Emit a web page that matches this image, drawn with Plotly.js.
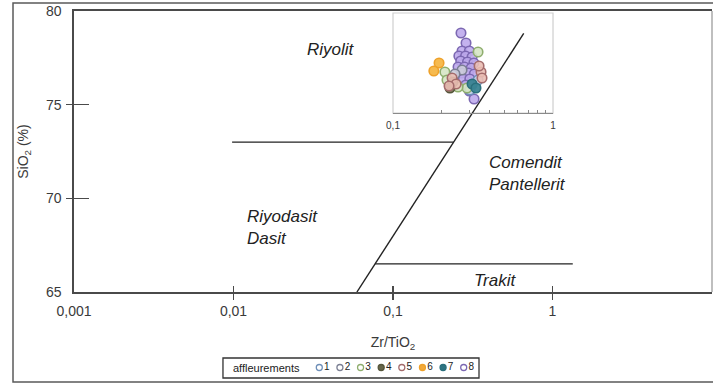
<!DOCTYPE html>
<html>
<head>
<meta charset="utf-8">
<script src="https://cdn.plot.ly/plotly-3.0.1.min.js"></script>
<style>html,body{margin:0;padding:0;background:#fff;}#chart{width:713px;height:383px;}</style>
</head>
<body>
<div id="chart"></div>
<script>
// ---- main diagram ----
var xTickVals = [0.001, 0.01, 0.1, 1, 10];
var xTickText = ['0,001', '0,01', '0,1', '1', '10'];
var xCrossTicks = [0.01, 0.1, 1];
var yTickVals = [65, 70, 75, 80];
var yCrossTicks = [70, 75];

// field boundary lines (Zr/TiO2, SiO2)
var diagX = [0.0594, 0.66];
var diagY = [65, 78.8];
var upperX = [0.0098, 0.24];
var upperY = [73, 73];
var lowerX = [0.0773, 1.34];
var lowerY = [66.5, 66.5];

// field names
var fieldNames = ['Riyolit', 'Comendit<br>Pantellerit', 'Riyodasit<br>Dasit', 'Trakit'];
var fieldX = [0.0408, 0.388, 0.0118, 0.436];
var fieldY = [77.92, 71.32, 68.47, 65.64];

// ---- inset (Zr/TiO2 0.1 - 1) ----
var insetTickVals = [0.1, 1];
var insetTickText = ['0,1', '1'];
var insetMinorTicks = [0.2, 0.3, 0.4, 0.5, 0.6, 0.7, 0.8, 0.9];

var seriesNames = ['1', '2', '3', '4', '5', '6', '7', '8'];
var seriesLine = ['#6e8fb8', '#7b7f93', '#8fae6e', '#55553a', '#a46c6c', '#eea12a', '#2a6f7c', '#7c68b2'];
var seriesFill = ['rgba(200,212,234,0.9)', 'rgba(205,206,218,0.9)', 'rgba(214,230,196,0.9)', 'rgba(120,120,88,0.95)',
                  'rgba(234,190,180,0.9)', 'rgba(245,182,70,0.95)', 'rgba(58,132,146,0.95)', 'rgba(190,170,236,0.9)'];
var legendFill = ['#ffffff', '#ffffff', '#ffffff', '#66664a', '#ffffff', '#f2a93a', '#2f7482', '#ffffff'];

var s1x = [0.340, 0.303];             var s1y = [33, 23];
var s2x = [0.270, 0.244];             var s2y = [43, 39];
var s3x = [0.340, 0.211, 0.2175, 0.290, 0.255]; var s3y = [61, 41, 33, 25, 26];
var s4x = [0.237, 0.227];             var s4y = [31, 25];
var s5x = [0.355, 0.345, 0.360, 0.234, 0.248, 0.224]; var s5y = [41, 47, 35, 35, 29, 27];
var s6x = [0.194, 0.180];             var s6y = [50, 42];
var s7x = [0.312, 0.330];             var s7y = [29, 25];
var s8x = [0.266, 0.286, 0.270, 0.300, 0.258, 0.284, 0.312, 0.265, 0.292, 0.320, 0.255, 0.280, 0.308,
           0.268, 0.296, 0.322, 0.275, 0.302, 0.285, 0.312, 0.300, 0.321];
var s8y = [80, 70, 62, 62, 57, 57, 56, 52, 51, 50, 46, 46, 45, 40, 40, 39, 34, 34, 28, 28, 22, 14];

var seriesX = [s1x, s2x, s3x, s4x, s5x, s6x, s7x, s8x];
var seriesY = [s1y, s2y, s3y, s4y, s5y, s6y, s7y, s8y];
var legendTitle = 'affleurements';
var legendRowY = [0, 0, 0, 0, 0, 0, 0, 0];

var FONT = 'Liberation Sans, Arial, sans-serif';
var traces = [];
var lineStyle = {color: '#222', width: 1.4};
traces.push({x: diagX, y: diagY, mode: 'lines', line: lineStyle, showlegend: false, hoverinfo: 'skip', xaxis: 'x', yaxis: 'y'});
traces.push({x: upperX, y: upperY, mode: 'lines', line: lineStyle, showlegend: false, hoverinfo: 'skip', xaxis: 'x4', yaxis: 'y4'});
traces.push({x: lowerX, y: lowerY, mode: 'lines', line: lineStyle, showlegend: false, hoverinfo: 'skip', xaxis: 'x5', yaxis: 'y5'});

var order = [7, 0, 1, 2, 3, 4, 5, 6];
order.forEach(function (i) {
  traces.push({
    x: seriesX[i], y: seriesY[i], name: seriesNames[i], mode: 'markers', xaxis: 'x2', yaxis: 'y2', showlegend: false,
    marker: {size: 9.5, color: seriesFill[i], line: {color: seriesLine[i], width: 1.6}}
  });
});

// legend row
traces.push({
  x: seriesNames, y: legendRowY, mode: 'markers+text', text: seriesNames, textposition: 'middle right',
  textfont: {family: FONT, size: 10, color: '#222'}, xaxis: 'x3', yaxis: 'y3', showlegend: false, hoverinfo: 'skip',
  marker: {size: 6, color: legendFill, line: {color: seriesLine, width: 1.3}}
});

var axCol = '#4a4a4a';
var hiddenTickAxis = function (type, range, overlay, anchor, vals, dir, len) {
  var a = {range: range, overlaying: overlay, anchor: anchor, tickvals: vals, ticks: dir, ticklen: len,
           tickwidth: 1.3, tickcolor: axCol, showticklabels: false, showline: false, showgrid: false, zeroline: false};
  if (type) a.type = type;
  return a;
};
var layout = {
  width: 713, height: 383,
  margin: {l: 74, r: 1, t: 11, b: 5},
  paper_bgcolor: '#fff', plot_bgcolor: 'rgba(0,0,0,0)',
  font: {family: FONT, color: '#3a3a3a', size: 14},
  showlegend: false,
  xaxis: {
    type: 'log', range: [-3, 1], domain: [0, 1], anchor: 'y',
    tickvals: xTickVals, ticktext: xTickText, ticks: 'outside', ticklen: 6, tickcolor: 'rgba(0,0,0,0)',
    showline: true, linecolor: axCol, linewidth: 1.6, mirror: true, showgrid: false, zeroline: false,
    tickfont: {size: 14, color: '#3a3a3a'},
    title: {text: 'Zr/TiO<sub>2</sub>', font: {size: 14, color: '#3a3a3a'}, standoff: 19}
  },
  yaxis: {
    range: [65, 80], domain: [0.2343, 1], anchor: 'x',
    tickvals: yTickVals, ticks: 'outside', ticklen: 8, tickcolor: 'rgba(0,0,0,0)',
    showline: true, linecolor: axCol, linewidth: 1.6, showgrid: false, zeroline: false,
    tickfont: {size: 14, color: '#3a3a3a'},
    title: {text: 'SiO<sub>2</sub> (%)', font: {size: 14, color: '#3a3a3a'}, standoff: 14}
  },
  xaxis4: hiddenTickAxis('log', [-3, 1], 'x', 'y', xCrossTicks, 'inside', 6),
  xaxis5: hiddenTickAxis('log', [-3, 1], 'x', 'y', xCrossTicks, 'outside', 7),
  yaxis4: hiddenTickAxis(null, [65, 80], 'y', 'x', yCrossTicks, 'inside', 15),
  yaxis5: hiddenTickAxis(null, [65, 80], 'y', 'x', yCrossTicks, 'outside', 7),
  xaxis2: {
    type: 'log', range: [-1, 0], domain: [0.5, 0.7508], anchor: 'y2',
    tickvals: insetTickVals, ticktext: insetTickText, ticks: 'outside', ticklen: 3, tickcolor: 'rgba(0,0,0,0)',
    minor: {tickvals: insetMinorTicks, ticks: 'inside', ticklen: 3, tickcolor: '#888', tickwidth: 1, showgrid: false},
    showline: true, linecolor: '#8a8a8a', linewidth: 1.2, showgrid: false, zeroline: false,
    tickfont: {size: 10, color: '#3a3a3a'}
  },
  yaxis2: {range: [0, 100], domain: [0.722, 0.9946], anchor: 'x2', showticklabels: false, ticks: '',
           showline: false, showgrid: false, zeroline: false},
  xaxis3: {type: 'category', range: [-0.5, 7.5], domain: [0.3683, 0.627], anchor: 'y3', visible: false},
  yaxis3: {range: [-1, 1], domain: [0.0027, 0.0545], anchor: 'x3', visible: false},
  shapes: [
    {type: 'rect', xref: 'paper', yref: 'paper', x0: -0.0956, x1: 1.02, y0: -0.0109, y1: 1.0218,
     line: {color: '#5a5a5a', width: 1.5}, fillcolor: 'rgba(0,0,0,0)', layer: 'below'},
    {type: 'line', xref: 'paper', yref: 'paper', x0: 1, x1: 1, y0: 0.2343, y1: 1, line: {color: '#aaaaaa', width: 1.5}},
    {type: 'rect', xref: 'x2 domain', yref: 'y2 domain', x0: 0, x1: 1, y0: 0, y1: 1,
     line: {color: '#cfcfcf', width: 1.2}, fillcolor: 'rgba(0,0,0,0)', layer: 'below'},
    {type: 'rect', xref: 'paper', yref: 'paper', x0: 0.2335, x1: 0.6348, y0: 0.0, y1: 0.0545,
     line: {color: '#333', width: 1.3}, fillcolor: 'rgba(0,0,0,0)'}
  ],
  annotations: []
};

for (var i = 0; i < fieldNames.length; i++) {
  var isLeft = (i === 1 || i === 2);
  layout.annotations.push({
    x: Math.log10(fieldX[i]), y: fieldY[i], xref: 'x', yref: 'y', text: fieldNames[i], showarrow: false,
    xanchor: isLeft ? 'left' : 'center', yanchor: 'middle', align: 'left',
    font: {family: FONT, size: 17, color: '#222', style: 'italic'}
  });
}
layout.annotations.push({
  x: 0.246, y: 0.0286, xref: 'paper', yref: 'paper', text: legendTitle, showarrow: false,
  xanchor: 'left', yanchor: 'middle', font: {family: FONT, size: 11, color: '#222'}
});

Plotly.newPlot('chart', traces, layout, {staticPlot: true, displayModeBar: false});
</script>
</body>
</html>
